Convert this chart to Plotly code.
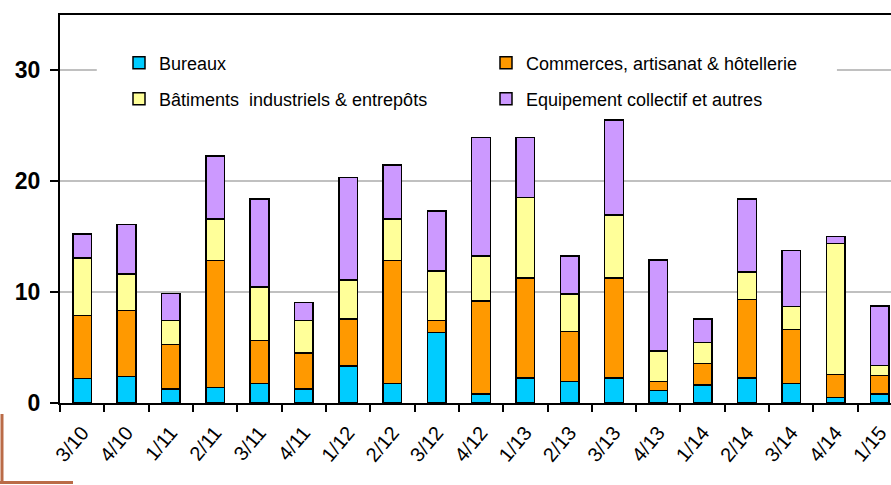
import plotly.graph_objects as go

# quarters (trimestre/année)
quarters = ["3/10", "4/10", "1/11", "2/11", "3/11", "4/11", "1/12", "2/12", "3/12", "4/12",
            "1/13", "2/13", "3/13", "4/13", "1/14", "2/14", "3/14", "4/14", "1/15"]

bureaux = [2.2, 2.4, 1.26, 1.4, 1.74, 1.26, 3.35, 1.74, 6.38, 0.81,
           2.25, 1.95, 2.25, 1.14, 1.62, 2.25, 1.77, 0.48, 0.81]
commerces = [5.7, 5.95, 4.04, 11.46, 3.89, 3.23, 4.25, 11.13, 1.05, 8.38,
             9.04, 4.49, 9.04, 0.81, 1.94, 7.09, 4.88, 2.09, 1.65]
batiments = [5.2, 3.27, 2.13, 3.72, 4.85, 2.94, 3.48, 3.72, 4.46, 4.07,
             7.27, 3.41, 5.66, 2.72, 1.92, 2.46, 2.06, 11.8, 0.92]
equipement = [2.15, 4.5, 2.45, 5.72, 7.94, 1.64, 9.28, 4.88, 5.41, 10.67,
              5.37, 3.41, 8.59, 8.23, 2.12, 6.62, 5.03, 0.66, 5.36]

series = [
    ("Bureaux", bureaux, "#00CCFF", "legend"),
    ("Commerces, artisanat & hôtellerie", commerces, "#FF9900", "legend2"),
    ("Bâtiments  industriels & entrepôts", batiments, "#FFFF99", "legend3"),
    ("Equipement collectif et autres", equipement, "#CC99FF", "legend4"),
]

W, H = 891, 485
L, R, T, B = 60, 0, 15, 82
pw, ph = W - L - R, H - T - B

fig = go.Figure()
for name, vals, col, leg in series:
    fig.add_trace(go.Bar(
        name=name, x=quarters, y=vals, legend=leg,
        marker=dict(color=col, line=dict(color="black", width=1.5)),
        width=0.42,
    ))

font = "Arial, Liberation Sans, sans-serif"


def px_x(p):
    return (p - L) / pw


def px_y(p):
    return (H - B - p) / ph


leg_common = dict(font=dict(family=font, size=18, color="black"),
                  bgcolor="rgba(0,0,0,0)", xanchor="left", yanchor="middle")

fig.update_layout(
    width=W, height=H,
    margin=dict(l=L, r=R, t=T, b=B),
    barmode="stack",
    showlegend=True,
    plot_bgcolor="white", paper_bgcolor="white",
    legend=dict(x=px_x(119), y=px_y(63), **leg_common),
    legend2=dict(x=px_x(486), y=px_y(63), **leg_common),
    legend3=dict(x=px_x(119), y=px_y(99), **leg_common),
    legend4=dict(x=px_x(486), y=px_y(99), **leg_common),
    xaxis=dict(
        type="category", range=[-0.5, 18.25],
        showline=True, linecolor="black", linewidth=2, mirror=True,
        ticks="outside", tickson="boundaries", ticklen=7, tickwidth=1.5, tickcolor="black",
        tickangle=-50, ticklabelstandoff=8,
        tickfont=dict(family=font, size=20, color="black"),
        showgrid=False,
    ),
    yaxis=dict(
        range=[0, 35], tickvals=[0, 10, 20, 30],
        showline=True, linecolor="black", linewidth=2,
        ticks="outside", ticklen=8, tickwidth=1.5, tickcolor="black",
        ticklabelstandoff=5,
        tickfont=dict(family=font, size=23, color="black", weight="bold"),
        showgrid=True, gridcolor="#C0C0C0", gridwidth=1.5,
        zeroline=False,
    ),
    shapes=[
        # white legend area hiding the gridline
        dict(type="rect", xref="x", yref="y", x0=0.33, x1=17.03, y0=26, y1=33,
             fillcolor="white", line=dict(width=0), layer="between"),
        # decorative brown corner bottom-left
        dict(type="line", xref="paper", yref="paper", x0=px_x(2), x1=px_x(2),
             y0=px_y(414), y1=px_y(484), line=dict(color="#BA6B47", width=3)),
        dict(type="line", xref="paper", yref="paper", x0=px_x(0), x1=px_x(73),
             y0=px_y(482.5), y1=px_y(482.5), line=dict(color="#BA6B47", width=3)),
    ],
)

fig.write_html("out.html", config={"displayModeBar": False},
               post_script="document.body.style.margin='0px';")
